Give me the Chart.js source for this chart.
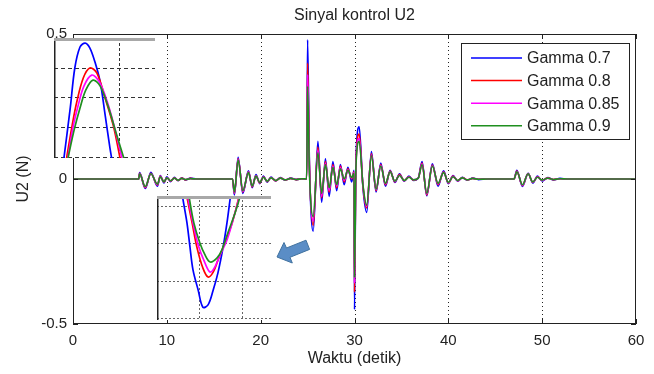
<!DOCTYPE html>
<html>
<head>
<meta charset="utf-8">
<title>Sinyal kontrol U2</title>
<script src="https://cdn.jsdelivr.net/npm/chart.js@4.4.0/dist/chart.umd.min.js"></script>
<style>
  body { margin: 0; background: #fff; }
  #wadah { position: relative; width: 654px; height: 374px; }
  #wadah canvas { position: absolute; }
  #grafik { left: 0; top: 0; }
  #zoom1 { left: 54px; top: 38px; background: #fff; }
  #zoom2 { left: 157px; top: 196px; background: #fff; }
  #panah { position: absolute; left: 0; top: 0; }
</style>
</head>
<body>
<div id="wadah">
  <canvas id="grafik" width="654" height="374"></canvas>
  <canvas id="zoom1" width="101" height="120"></canvas>
  <canvas id="zoom2" width="114" height="124"></canvas>
  <svg id="panah" width="654" height="374">
    <polygon points="277,257 284,242.5 286.5,248 306,240.2 309.6,249.4 290,257.3 292.3,263" fill="#5a8dc6" stroke="#41729f" stroke-width="1"/>
  </svg>
</div>
<script>
//data sinyal kontrol U2 (N) terhadap waktu (detik)
var waktu = [0, 7.0, 7.1, 7.7, 8.3, 9.0, 9.3, 9.7, 10.0, 10.4, 10.8, 11.2, 11.6, 12.0, 12.5, 13.2,
  17.0, 17.2, 17.6, 18.1, 18.7, 19.1, 19.5, 19.9, 20.3, 20.7, 21.1, 21.6, 22.1, 22.6, 23.2, 23.8, 24.4, 24.9,
  25.0, 25.2, 25.6, 26.1, 26.5, 26.9, 27.3, 27.7, 28.1, 28.5, 28.9, 29.3, 29.7, 29.95,
  30.0, 30.15, 30.5, 30.9, 31.3, 31.8, 32.3, 32.8, 33.3, 33.8, 34.3, 34.8, 35.3, 35.8, 36.3, 36.8,
  37.2, 37.7, 38.3, 38.9, 39.5, 40.0, 40.5, 41.0, 41.5, 42.0, 42.6, 43.2, 44.2,
  47.0, 47.3, 47.9, 48.5, 49.0, 49.5, 50.0, 50.6, 51.2, 51.9, 52.7, 60];
var u2Gamma07 = [0, 0, 0.022, -0.033, 0.023, -0.025, 0.012, -0.014, 0.008, -0.009, 0.006, -0.006, 0.004, -0.004, 0.003, 0,
  0, -0.055, 0.075, -0.05, 0.028, -0.03, 0.015, -0.016, 0.010, -0.011, 0.007, -0.007, 0.005, -0.004, 0.003, -0.002, 0.001, 0,
  0.48, 0.05, -0.18, 0.13, -0.08, 0.07, -0.06, 0.06, -0.04, 0.05, -0.02, 0.04, -0.01, 0.03,
  -0.45, 0.06, 0.18, -0.03, -0.115, 0.095, -0.045, 0.055, -0.025, 0.03, -0.012, 0.018, -0.008, 0.010, -0.005, 0.004,
  0.06, -0.058, 0.052, -0.025, 0.028, -0.016, 0.012, -0.008, 0.006, -0.004, 0.003, -0.002, 0,
  0, 0.03, -0.026, 0.02, -0.014, 0.01, -0.007, 0.005, -0.003, 0.002, 0, 0];
var u2Gamma08 = [0, 0, 0.020, -0.030, 0.020, -0.021, 0.010, -0.011, 0.005, -0.007, 0.004, -0.005, 0.003, -0.003, 0.002, 0,
  0, -0.05, 0.07, -0.045, 0.025, -0.027, 0.012, -0.014, 0.008, -0.009, 0.005, -0.006, 0.004, -0.003, 0.002, -0.002, 0.001, 0,
  0.40, 0.04, -0.16, 0.11, -0.065, 0.06, -0.045, 0.05, -0.03, 0.045, -0.01, 0.035, 0.0, 0.025,
  -0.39, 0.05, 0.155, -0.025, -0.10, 0.087, -0.04, 0.05, -0.02, 0.027, -0.01, 0.015, -0.006, 0.008, -0.004, 0.003,
  0.055, -0.055, 0.048, -0.02, 0.025, -0.014, 0.01, -0.006, 0.005, -0.003, 0.002, -0.001, 0,
  0, 0.027, -0.023, 0.019, -0.012, 0.008, -0.005, 0.004, -0.002, 0.001, 0, 0];
var u2Gamma085 = [0, 0, 0.019, -0.028, 0.019, -0.020, 0.009, -0.011, 0.005, -0.007, 0.003, -0.004, 0.002, -0.002, 0.001, 0,
  0, -0.048, 0.068, -0.043, 0.024, -0.025, 0.011, -0.013, 0.007, -0.008, 0.005, -0.005, 0.003, -0.003, 0.002, -0.002, 0.001, 0,
  0.36, 0.03, -0.145, 0.10, -0.06, 0.055, -0.04, 0.045, -0.025, 0.04, -0.005, 0.032, 0.003, 0.022,
  -0.36, 0.05, 0.14, -0.022, -0.095, 0.083, -0.037, 0.047, -0.017, 0.026, -0.009, 0.013, -0.006, 0.007, -0.003, 0.003,
  0.052, -0.052, 0.046, -0.017, 0.023, -0.013, 0.009, -0.006, 0.004, -0.003, 0.002, -0.001, 0,
  0, 0.026, -0.022, 0.018, -0.011, 0.007, -0.005, 0.003, -0.002, 0.001, 0, 0];
var u2Gamma09 = [0, 0, 0.018, -0.026, 0.018, -0.018, 0.008, -0.010, 0.004, -0.006, 0.003, -0.004, 0.002, -0.002, 0.001, 0,
  0, -0.045, 0.065, -0.04, 0.022, -0.024, 0.010, -0.012, 0.006, -0.008, 0.004, -0.005, 0.003, -0.003, 0.002, -0.002, 0.001, 0,
  0.32, 0.02, -0.13, 0.09, -0.05, 0.05, -0.03, 0.04, -0.02, 0.035, 0.0, 0.03, 0.005, 0.02,
  -0.34, 0.04, 0.13, -0.02, -0.09, 0.08, -0.035, 0.045, -0.015, 0.025, -0.008, 0.012, -0.005, 0.006, -0.003, 0.003,
  0.05, -0.05, 0.045, -0.015, 0.022, -0.012, 0.008, -0.005, 0.004, -0.003, 0.002, -0.001, 0,
  0, 0.025, -0.02, 0.018, -0.01, 0.006, -0.004, 0.003, -0.002, 0.001, 0, 0];
var namaSeri = ["Gamma 0.7", "Gamma 0.8", "Gamma 0.85", "Gamma 0.9"];
var warnaSeri = ["#0000ff", "#ff0000", "#ff00ff", "#1f8f1f"];
var judul = "Sinyal kontrol U2";
var labelX = "Waktu (detik)";
var labelY = "U2 (N)";

//kotak zoom atas (puncak di 25 detik), pasangan [x, y] dalam satuan kotak
var zoomAtas07 = [[0.15, -0.1], [0.25, 1.64], [0.32, 2.99], [0.40, 3.70], [0.48, 3.83], [0.55, 3.67], [0.63, 3.19], [0.71, 2.52], [0.78, 1.50], [0.86, 0.29], [0.89, -0.1]];
var zoomAtas08 = [[0.19, -0.1], [0.28, 1.06], [0.35, 1.84], [0.45, 2.65], [0.55, 2.99], [0.66, 2.82], [0.78, 2.01], [0.91, 1.06], [1.02, -0.1]];
var zoomAtas085 = [[0.21, -0.1], [0.29, 0.96], [0.37, 1.71], [0.46, 2.38], [0.58, 2.75], [0.69, 2.55], [0.82, 1.84], [0.94, 0.90], [1.05, -0.1]];
var zoomAtas09 = [[0.21, -0.1], [0.31, 0.90], [0.40, 1.64], [0.49, 2.25], [0.60, 2.58], [0.71, 2.38], [0.83, 1.71], [0.95, 0.83], [1.08, -0.1]];
//kotak zoom bawah (lembah di 30 detik)
var zoomBawah07 = [[0.60, 3.40], [0.63, 3.16], [0.72, 2.55], [0.79, 1.90], [0.86, 1.29], [0.98, 0.75], [1.09, 0.29], [1.21, 0.35], [1.33, 0.75], [1.44, 1.21], [1.56, 1.90], [1.65, 2.55], [1.72, 3.16], [1.75, 3.40]];
var zoomBawah08 = [[0.70, 3.40], [0.72, 3.24], [0.84, 2.55], [0.95, 1.90], [1.09, 1.34], [1.21, 1.10], [1.33, 1.23], [1.44, 1.55], [1.60, 2.01], [1.77, 2.55], [1.91, 3.16], [1.94, 3.40]];
var zoomBawah085 = [[0.72, 3.40], [0.74, 3.24], [0.86, 2.55], [0.98, 1.96], [1.14, 1.47], [1.26, 1.23], [1.37, 1.37], [1.49, 1.69], [1.65, 2.09], [1.79, 2.63], [1.93, 3.22], [1.95, 3.40]];
var zoomBawah09 = [[0.75, 3.40], [0.77, 3.24], [0.88, 2.55], [1.02, 2.01], [1.14, 1.69], [1.26, 1.50], [1.42, 1.61], [1.53, 1.82], [1.67, 2.28], [1.84, 2.82], [1.95, 3.24], [1.97, 3.40]];

Chart.defaults.font.family = '"Liberation Sans", Arial, sans-serif';
Chart.defaults.color = '#222';

function keTitik(xs, ys) {
  return xs.map(function(v, i) { return {x: v, y: ys[i]}; });
}
function dariPasangan(p) {
  return p.map(function(v) { return {x: v[0], y: v[1]}; });
}

//grid titik-titik, bingkai, tick ke dalam, judul dan legenda
var pluginSumbu = {
  id: 'sumbu',
  beforeDatasetsDraw: function(chart) {
    var ctx = chart.ctx, a = chart.chartArea, sx = chart.scales.x;
    ctx.save();
    ctx.strokeStyle = '#222';
    ctx.lineWidth = 1;
    ctx.setLineDash([1, 3]);
    sx.ticks.forEach(function(tk) {
      if (tk.value <= sx.min || tk.value >= sx.max) return;
      var px = Math.round(sx.getPixelForValue(tk.value)) + 0.5;
      ctx.beginPath(); ctx.moveTo(px, a.top); ctx.lineTo(px, a.bottom); ctx.stroke();
    });
    ctx.restore();
  },
  afterDatasetsDraw: function(chart) {
    var ctx = chart.ctx, a = chart.chartArea, sx = chart.scales.x, sy = chart.scales.y;
    ctx.save();
    ctx.strokeStyle = '#222';
    ctx.lineWidth = 1;
    ctx.strokeRect(a.left + 0.5, a.top + 0.5, a.right - a.left - 1, a.bottom - a.top - 1);
    ctx.beginPath();
    sx.ticks.forEach(function(tk) {
      var px = Math.round(sx.getPixelForValue(tk.value)) + 0.5;
      ctx.moveTo(px, a.bottom); ctx.lineTo(px, a.bottom - 5);
      ctx.moveTo(px, a.top); ctx.lineTo(px, a.top + 5);
    });
    sy.ticks.forEach(function(tk) {
      var py = Math.round(sy.getPixelForValue(tk.value)) + 0.5;
      ctx.moveTo(a.left, py); ctx.lineTo(a.left + 5, py);
      ctx.moveTo(a.right, py); ctx.lineTo(a.right - 5, py);
    });
    ctx.stroke();
    //judul
    ctx.fillStyle = '#222';
    ctx.font = '16px "Liberation Sans", Arial, sans-serif';
    ctx.textAlign = 'center';
    ctx.textBaseline = 'middle';
    ctx.fillText(judul, (a.left + a.right) / 2, 16);
    //legenda
    var kx = 461, ky = 43, kw = 168, kh = 96;
    ctx.fillStyle = '#fff';
    ctx.fillRect(kx, ky, kw, kh);
    ctx.strokeStyle = '#222';
    ctx.strokeRect(kx + 0.5, ky + 0.5, kw, kh);
    ctx.textAlign = 'left';
    chart.data.datasets.forEach(function(ds, i) {
      var yy = 58 + i * 22.6;
      ctx.strokeStyle = ds.borderColor;
      ctx.lineWidth = 1.5;
      ctx.beginPath(); ctx.moveTo(471, yy); ctx.lineTo(522, yy); ctx.stroke();
      ctx.fillStyle = '#222';
      ctx.fillText(ds.label, 527, yy + 1);
    });
    ctx.restore();
  }
};

var seriUtama = [u2Gamma07, u2Gamma08, u2Gamma085, u2Gamma09];
new Chart(document.getElementById('grafik'), {
  type: 'line',
  data: {
    datasets: seriUtama.map(function(ys, i) {
      return {
        label: namaSeri[i],
        data: keTitik(waktu, ys),
        borderColor: warnaSeri[i],
        borderWidth: 1.6,
        pointRadius: 0,
        cubicInterpolationMode: 'monotone',
        order: 4 - i
      };
    })
  },
  options: {
    responsive: false,
    animation: false,
    devicePixelRatio: 1,
    events: [],
    layout: { padding: { top: 34, right: 18, left: 0, bottom: 0 } },
    plugins: { legend: { display: false }, tooltip: { enabled: false }, title: { display: false } },
    scales: {
      x: {
        type: 'linear', min: 0, max: 60,
        grid: { display: false, drawTicks: false }, border: { display: false },
        ticks: { stepSize: 10, padding: 8, maxRotation: 0, font: { size: 15 }, color: '#222' },
        title: { display: true, text: labelX, font: { size: 16 }, padding: { top: 0, bottom: 6 }, color: '#222' },
        afterFit: function(s) { s.height = 50; }
      },
      y: {
        type: 'linear', min: -0.5, max: 0.5,
        grid: { display: false, drawTicks: false }, border: { display: false },
        ticks: { stepSize: 0.5, padding: 6, font: { size: 15 }, color: '#222' },
        title: { display: true, text: labelY, font: { size: 16 }, padding: { top: 14, bottom: 0 }, color: '#222' },
        afterFit: function(s) { s.width = 73; }
      }
    }
  },
  plugins: [pluginSumbu]
});

//kotak zoom kecil
function pluginKotak(opsi) {
  return {
    id: 'kotak',
    beforeDatasetsDraw: function(chart) {
      var ctx = chart.ctx, a = chart.chartArea, sx = chart.scales.x, sy = chart.scales.y;
      ctx.save();
      ctx.lineWidth = 1;
      ctx.strokeStyle = opsi.warnaGrid;
      ctx.setLineDash(opsi.dashY);
      opsi.gridY.forEach(function(v) {
        var py = Math.round(sy.getPixelForValue(v)) + 0.5;
        ctx.beginPath(); ctx.moveTo(a.left, py); ctx.lineTo(a.right, py); ctx.stroke();
      });
      ctx.setLineDash(opsi.dashX);
      opsi.gridX.forEach(function(v) {
        var px = Math.round(sx.getPixelForValue(v)) + 0.5;
        ctx.beginPath(); ctx.moveTo(px, a.top); ctx.lineTo(px, a.bottom); ctx.stroke();
      });
      ctx.restore();
    },
    afterDatasetsDraw: function(chart) {
      var ctx = chart.ctx, a = chart.chartArea;
      ctx.save();
      ctx.fillStyle = '#222';
      ctx.fillRect(a.left, a.top, 1.5, a.bottom - a.top);
      ctx.fillStyle = '#a8a8a8';
      ctx.fillRect(a.left, a.top, a.right - a.left, 3);
      ctx.restore();
    }
  };
}

function buatKotak(id, kumpulan, xmin, xmax, ymin, ymax, opsi) {
  new Chart(document.getElementById(id), {
    type: 'line',
    data: {
      datasets: kumpulan.map(function(p, i) {
        return {
          label: namaSeri[i],
          data: dariPasangan(p),
          borderColor: warnaSeri[i],
          borderWidth: 1.7,
          pointRadius: 0,
          tension: 0.35,
          order: 4 - i
        };
      })
    },
    options: {
      responsive: false,
      animation: false,
      devicePixelRatio: 1,
      events: [],
      layout: { padding: 0 },
      plugins: { legend: { display: false }, tooltip: { enabled: false } },
      scales: {
        x: { type: 'linear', display: false, min: xmin, max: xmax },
        y: { type: 'linear', display: false, min: ymin, max: ymax }
      }
    },
    plugins: [pluginKotak(opsi)]
  });
}

buatKotak('zoom1', [zoomAtas07, zoomAtas08, zoomAtas085, zoomAtas09], 0, 1.553, -0.05, 4.003,
  { gridX: [1], gridY: [0, 1, 2, 3], dashX: [3, 2], dashY: [4, 3], warnaGrid: '#333' });
buatKotak('zoom2', [zoomBawah07, zoomBawah08, zoomBawah085, zoomBawah09], 0.023, 2.674, -0.054, 3.271,
  { gridX: [1, 2], gridY: [0, 1, 2, 3], dashX: [2, 2], dashY: [2, 2], warnaGrid: '#666' });
</script>
</body>
</html>
